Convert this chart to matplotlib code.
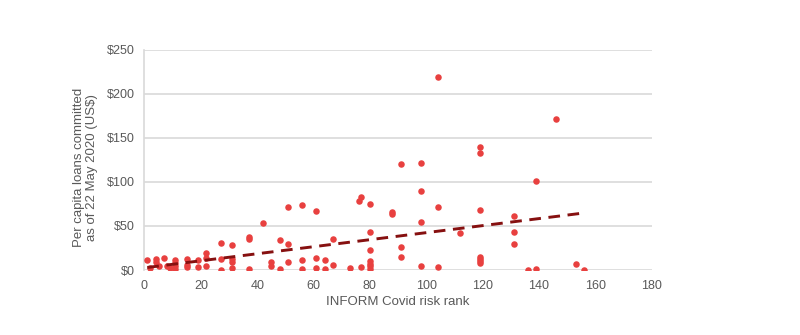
import matplotlib
matplotlib.use("Agg")
import matplotlib.pyplot as plt
from matplotlib.ticker import StrMethodFormatter

# INFORM Covid risk rank vs per capita loans committed (US$)
risk_rank = [1, 2, 4, 4, 5, 7, 8, 9, 11, 11, 11, 11, 15, 15, 15, 19, 19,
             22, 22, 22, 27, 27, 27, 31, 31, 31, 31, 37, 37, 37, 42, 45, 45,
             48, 48, 51, 51, 51, 56, 56, 56, 61, 61, 61, 64, 64, 67, 67, 73,
             76, 77, 77, 80, 80, 80, 80, 80, 80, 80, 88, 88, 91, 91, 91,
             98, 98, 98, 98, 104, 104, 104, 112, 119, 119, 119, 119, 119,
             119, 119, 131, 131, 131, 136, 139, 139, 146, 153, 156]
loans = [11, 2, 9, 13, 5, 14, 4, 2, 11, 8, 4, 1, 12, 6, 3, 11, 3,
         19, 14, 5, 31, 13, 0, 28, 13, 9, 2, 38, 35, 1, 53, 9, 5,
         34, 1, 72, 29, 9, 74, 11, 1, 67, 14, 2, 11, 1, 35, 6, 2,
         78, 83, 3, 75, 43, 23, 10, 7, 4, 1, 66, 64, 120, 26, 15,
         122, 90, 54, 4, 219, 72, 3, 42, 140, 133, 68, 15, 12,
         10, 8, 61, 43, 29, 0, 101, 1, 171, 7, 0]

# linear trend line (as drawn in the chart)
trend_x = [1, 156]
trend_y = [2.9, 64.8]

fig = plt.figure(figsize=(8, 3.35), dpi=100)
ax = fig.add_axes([0.1806, 0.194, 0.634, 0.657])

ax.scatter(risk_rank, loans, s=22, color="#e8403f", zorder=3, linewidths=0)
ax.plot(trend_x, trend_y, color="#861010", lw=2.1, dashes=(4, 2.6),
        zorder=4, solid_capstyle="butt")

ax.set_xlim(0, 180)
ax.set_ylim(0, 250)
ax.set_xticks(range(0, 181, 20))
ax.set_yticks(range(0, 251, 50))
ax.yaxis.set_major_formatter(StrMethodFormatter("${x:.0f}"))

ax.grid(axis="y", color="#d9d9d9", lw=1.2, zorder=0)
ax.set_axisbelow(True)
for side in ["top", "right", "bottom"]:
    ax.spines[side].set_visible(False)
ax.spines["left"].set_color("#d9d9d9")
ax.spines["left"].set_linewidth(1.2)

ax.tick_params(length=0, labelsize=9, colors="#595959", pad=7)
for lab in ax.get_xticklabels() + ax.get_yticklabels():
    lab.set_family("Liberation Sans")

ax.set_xlabel("INFORM Covid risk rank", fontsize=9.5, color="#595959",
              family="Liberation Sans", labelpad=3)
ax.set_ylabel("Per capita loans committed\nas of 22 May 2020 (US$)", fontsize=9.5,
              color="#595959", family="Liberation Sans", linespacing=1.1)
ax.yaxis.set_label_coords(-0.092, 0.465)

fig.savefig("out.png", dpi=100)
